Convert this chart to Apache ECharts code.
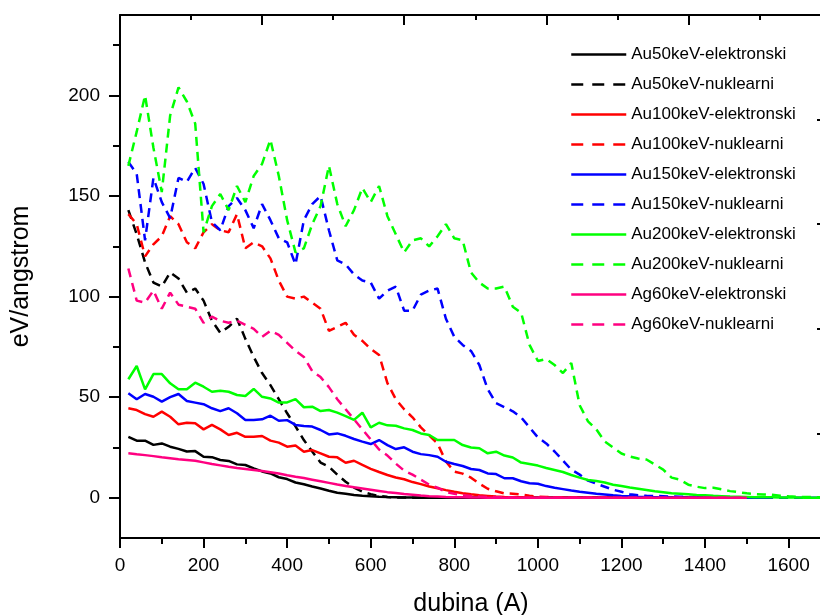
<!DOCTYPE html>
<html>
<head>
<meta charset="utf-8">
<script src="https://cdn.jsdelivr.net/npm/echarts@6.0.0/dist/echarts.min.js"></script>
<style>
html,body{margin:0;padding:0;background:#fff;}
#chart{width:820px;height:615px;}
</style>
</head>
<body>
<div id="chart"></div>
<script>
// depth (Angstrom) sample points
const depth = [
20,40,60,80,100,120,140,160,180,200,
220,240,260,280,300,320,340,360,380,400,
420,440,460,480,500,520,540,560,580,600,
620,640,660,680,700,720,740,760,780,800,
820,840,860,880,900,920,940,960,980,1000,
1020,1040,1060,1080,1100,1120,1140,1160,1180,1200,
1220,1240,1260,1280,1300,1320,1340,1360,1380,1400,
1420,1440,1460,1480,1500,1520,1540,1560,1580,1600,
1620,1640,1660,1680,1700];

const au50El = [
30.3,28.4,28.4,26.3,27,25.4,24.3,23,23.2,20.4,
20.2,18.8,18.3,16.6,16.3,14.6,13.1,12.1,10.2,9.3,
7.6,6.7,5.6,4.6,3.5,2.5,2.0,1.4,1.0,0.7,
0.5,0.35,0.25,0.15,0.1,0.05,0,0,0,0,
0,0,0,0,0,0,0,0,0,0,
0,0,0,0,0,0,0,0,0,0,
0,0,0,0,0,0,0,0,0,0,
0,0,0,0,0];
const au50Nu = [
143,131,117,107,105,112,109,102,104,98,
88,82,85,89,79,70,62,56,49,42,
35.5,28.7,23,17.5,15.4,11.5,8,5,3,1.8,
0.9,0.4,0.2,0.1,0,0,0,0,0,0,
0,0,0,0,0,0,0,0,0,0,
0,0,0,0,0,0,0,0,0,0,
0,0,0,0,0,0,0,0,0,0,
0,0,0,0,0];
const au100El = [
44.5,43.6,41.6,40.3,42.8,40.3,36.5,37.3,37,34,
36.2,34,31.2,32.3,30.3,30.3,30.7,28.4,27.4,25.4,
26,22.9,23.7,22.1,20.4,20.1,17.4,18.4,16.3,14.4,
12.8,11.3,10.1,9.2,7.8,6.8,5.6,4.7,3.8,3.0,
2.3,1.7,1.2,0.9,0.6,0.4,0.3,0.2,0.1,0.05,
0,0,0,0,0,0,0,0,0,0,
0,0,0,0,0,0,0,0,0,0,
0,0,0,0,0];
const au100Nu = [
141,136,120,126,130,140,136,127,124,132,
136,133,132,141,124,127,125,119,108,100,
99,100,97,94,83,85,87,81,78,74,
71,57,49,44,40,35,31,27,18,13,
12,10,7,4.5,3.2,2.2,2,1.6,1,0.6,
0.4,0.3,0.2,0.1,0,0,0,0,0,0,
0,0,0,0,0,0,0,0,0,0,
0,0,0,0,0];
const au150El = [
52,49,51.6,50.2,47.8,50,51.6,48.1,47.3,46.5,
44.5,43.1,44.5,42,38.7,38.7,39,40.8,38.3,38.6,
36.2,35.7,35.4,33.7,31.5,32,30.8,29.2,27.9,26.7,
28.7,26.2,24.2,25.1,22.9,21.7,21.2,20.4,17.9,16.8,
15.8,14.3,13.8,12.1,11.8,9.7,9.7,8.2,7.2,7.0,
5.8,5.0,4.3,3.6,3.0,2.5,2.0,1.6,1.2,0.9,
0.7,0.5,0.4,0.3,0.2,0.15,0.1,0.05,0,0,
0,0,0,0,0,0,0,0];
const au150Nu = [
167,161,128,159,147,139,159,157,164,156,
137,133,145,149,143,134,146,138,129,127,
116,138,146,150,133,118,116,111,108,107,
99,103,105,93,93,101,103,104,89,80,
76,73,66,54,47,45,43,40,35,30,
27,23,18.5,14,11.5,8.5,7,5.5,4,3,
1.8,1.2,1,0.9,0.8,0.6,0.5,0.4,0.3,0.2,
0.15,0.1,0.1,0.05,0,0,0,0,0,0,
0,0,0,0,0];
const au200El = [
58.9,65.5,53.9,61.5,61.5,56.9,53.9,53.9,57.2,55.2,
52.7,53.2,52.7,51.1,50.6,54.1,50.2,49.4,47.3,47.4,
49,45,45.3,43.1,43.6,42.3,40.6,38.7,42.3,35,
37.3,36,35.8,34.5,33.7,32,31.2,28.7,28.7,28.7,
26.2,25,24.6,22.1,22.9,21,20,17.5,16.8,16,
14.8,13.8,12.8,11.3,10,8.8,8.3,7.6,6.5,5.8,
5.1,4.5,3.9,3.2,2.8,2.3,2.0,1.7,1.4,1.2,
0.95,0.8,0.6,0.5,0.4,0.3,0.25,0.2,0.15,0.1,
0.08,0.05,0.03,0.02,0.01];
const au200Nu = [
165,182,200,174,152,190,204,197,186,132,
145,151,143,155,147,160,166,178,160,138,
122,124,136,145,165,146,135,143,154,147,
155,140,131,122,128,129,125,130,136,129,
128,112,107,104,104,105,95,92,76,68,
69,66,62,67,46,38,34,28,25,22,
20.5,19.5,19,16.5,14,10,9,6.5,5.5,4.8,
5,4.2,3.3,2.8,2.2,1.8,1.6,1.5,1,0.7,
0.5,0.4,0.3,0.3,0.2];
const ag60El = [
22.1,21.6,21.2,20.7,20.1,19.6,19.1,18.8,18.4,17.6,
16.8,16.1,15.4,14.8,14.3,13.8,13.3,12.7,12.1,11.2,
10.4,9.8,9.0,8.2,7.4,6.6,5.9,5.2,4.6,4.0,
3.4,2.8,2.4,1.9,1.5,1.1,0.8,0.6,0.4,0.3,
0.2,0.15,0.1,0.05,0,0,0,0,0,0,
0,0,0,0,0,0,0,0,0,0,
0,0,0,0,0,0,0,0,0,0,
0,0,0,0,0];
const ag60Nu = [
114,98,97,103,94,102,96,95,94,87,
90,88,87,88,86,84,80,83,81,77,
73,70,63,60,55,49,44,39,34,29,
24,21,17,13.5,11.5,9,6.5,5,2.8,2,
1.3,0.9,0.6,0.4,0.3,0.2,0.1,0,0,0,
0,0,0,0,0,0,0,0,0,0,
0,0,0,0,0,0,0,0,0,0,
0,0,0,0,0];

const seriesNames = ['Au50keV-elektronski','Au50keV-nuklearni','Au100keV-elektronski','Au100keV-nuklearni',
  'Au150keV-elektronski','Au150keV-nuklearni','Au200keV-elektronski','Au200keV-nuklearni',
  'Ag60keV-elektronski','Ag60keV-nuklearni'];
const seriesValues = [au50El, au50Nu, au100El, au100Nu, au150El, au150Nu, au200El, au200Nu, ag60El, ag60Nu];
const seriesColors = ['#000000','#000000','#ff0000','#ff0000','#0000ff','#0000ff','#00ff00','#00ff00','#ff0080','#ff0080'];
const seriesDashed = [false,true,false,true,false,true,false,true,false,true];

const xMajorTicks = [0,200,400,600,800,1000,1200,1400,1600];
const xMinorTicks = [100,300,500,700,900,1100,1300,1500];
const yMajorTicks = [0,50,100,150,200];
const yMinorTicks = [25,75,125,175,225];
const topMajorTicks = [0,1,2,3,4];
const topMinorTicks = [0.5,1.5,2.5,3.5,4.5];
const rightTicks = [1,2,3,4];

const FONT = '"Liberation Sans", Arial, sans-serif';
const chart = echarts.init(document.getElementById('chart'), null, {renderer:'canvas'});

const gridRect = {left:120, top:15, width:702, height:523, containLabel:false, outerBoundsMode:'none'};
const blackLine = {color:'#000', width:2};
const hidden = 'rgba(0,0,0,0)';

const series = seriesValues.map((vals, i) => ({
  name: seriesNames[i],
  type: 'line',
  xAxisIndex: 0,
  yAxisIndex: 0,
  symbol: 'none',
  showSymbol: false,
  smooth: false,
  clip: true,
  data: vals.map((v, j) => [depth[j], v]),
  lineStyle: {color: seriesColors[i], width: 2.5, type: seriesDashed[i] ? [9, 6] : 'solid'},
  itemStyle: {color: seriesColors[i]},
  emphasis: {disabled: true}
}));

const legendData = seriesNames.map((n, i) => {
  const item = {name: n, itemStyle: {color: hidden, borderColor: hidden, borderWidth: 0, opacity: 0}};
  if (seriesDashed[i]) item.lineStyle = {type: [12, 9], width: 2.5, color: seriesColors[i]};
  else item.lineStyle = {type: 'solid', width: 2.5, color: seriesColors[i]};
  return item;
});

const plainNum = v => String(v);

chart.setOption({
  animation: false,
  backgroundColor: '#ffffff',
  textStyle: {fontFamily: FONT},
  grid: [Object.assign({}, gridRect), Object.assign({}, gridRect)],
  legend: {
    data: legendData,
    orient: 'vertical',
    left: 570,
    top: 46,
    padding: 0,
    itemWidth: 55,
    itemHeight: 17,
    itemGap: 13,
    selectedMode: false,
    itemStyle: {color: hidden, borderColor: hidden, borderWidth: 0, opacity: 0},
    textStyle: {fontFamily: FONT, fontSize: 17, color: '#000', lineHeight: 17}
  },
  xAxis: [
    {
      gridIndex: 0, type: 'value', position: 'bottom', min: 0, max: 1680,
      axisLine: {show: true, onZero: false, lineStyle: blackLine},
      axisTick: {show: true, inside: false, length: 10, customValues: xMajorTicks, lineStyle: blackLine},
      axisLabel: {show: true, customValues: xMajorTicks, formatter: plainNum, fontSize: 19, color: '#000', fontFamily: FONT, margin: 18},
      splitLine: {show: false},
      name: 'dubina (A)', nameLocation: 'middle', nameGap: 54,
      nameTextStyle: {fontSize: 25, color: '#000', fontFamily: FONT}
    },
    {
      gridIndex: 0, type: 'value', position: 'top', min: 0, max: 4.94,
      axisLine: {show: true, onZero: false, lineStyle: blackLine},
      axisTick: {show: true, inside: true, length: 10, customValues: topMajorTicks, lineStyle: blackLine},
      axisLabel: {show: false},
      splitLine: {show: false}
    },
    {
      gridIndex: 1, type: 'value', position: 'bottom', min: 0, max: 1680,
      axisLine: {show: false, onZero: false},
      axisTick: {show: true, inside: false, length: 6, customValues: xMinorTicks, lineStyle: blackLine},
      axisLabel: {show: false},
      splitLine: {show: false}
    },
    {
      gridIndex: 1, type: 'value', position: 'top', min: 0, max: 4.94,
      axisLine: {show: false, onZero: false},
      axisTick: {show: true, inside: true, length: 5, customValues: topMinorTicks, lineStyle: blackLine},
      axisLabel: {show: false},
      splitLine: {show: false}
    }
  ],
  yAxis: [
    {
      gridIndex: 0, type: 'value', position: 'left', min: -20, max: 240,
      axisLine: {show: true, onZero: false, lineStyle: blackLine},
      axisTick: {show: true, inside: false, length: 11, customValues: yMajorTicks, lineStyle: blackLine},
      axisLabel: {show: true, customValues: yMajorTicks, formatter: plainNum, fontSize: 19, color: '#000', fontFamily: FONT, margin: 20},
      splitLine: {show: false},
      name: 'eV/angstrom', nameLocation: 'middle', nameGap: 86,
      nameTextStyle: {fontSize: 25, color: '#000', fontFamily: FONT}
    },
    {
      gridIndex: 0, type: 'value', position: 'right', min: 0, max: 5,
      axisLine: {show: true, onZero: false, lineStyle: blackLine},
      axisTick: {show: true, inside: true, length: 5, customValues: rightTicks, lineStyle: blackLine},
      axisLabel: {show: false},
      splitLine: {show: false}
    },
    {
      gridIndex: 1, type: 'value', position: 'left', min: -20, max: 240,
      axisLine: {show: false, onZero: false},
      axisTick: {show: true, inside: false, length: 7, customValues: yMinorTicks, lineStyle: blackLine},
      axisLabel: {show: false},
      splitLine: {show: false}
    }
  ],
  series: series
});
</script>
</body>
</html>
